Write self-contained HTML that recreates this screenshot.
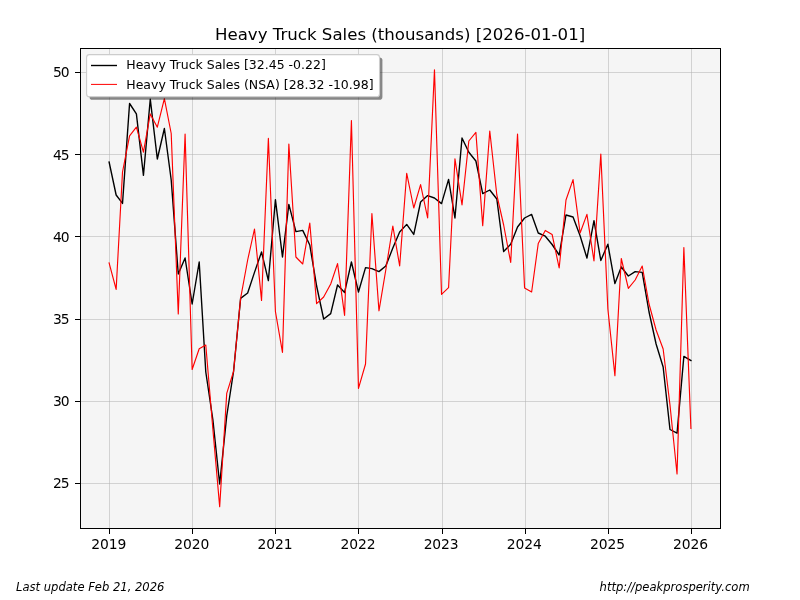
<!DOCTYPE html>
<html><head><meta charset="utf-8"><title>Heavy Truck Sales</title>
<style>
html,body{margin:0;padding:0;background:#fff;}
body{width:800px;height:600px;overflow:hidden;}
svg{display:block;}
text{font-family:"DejaVu Sans","Liberation Sans",sans-serif;fill:#000;}
.it{font-style:italic;}
</style></head><body>
<svg width="800" height="600" viewBox="0 0 800 600">
<rect x="0" y="0" width="800" height="600" fill="#ffffff"/>
<rect x="80.5" y="48.5" width="640" height="480" fill="#f5f5f5"/>
<g stroke="#b0b0b0" stroke-opacity="0.5" stroke-width="1" shape-rendering="crispEdges"><line x1="109.5" y1="48.5" x2="109.5" y2="528.5"/><line x1="192.5" y1="48.5" x2="192.5" y2="528.5"/><line x1="275.5" y1="48.5" x2="275.5" y2="528.5"/><line x1="358.5" y1="48.5" x2="358.5" y2="528.5"/><line x1="442.5" y1="48.5" x2="442.5" y2="528.5"/><line x1="525.5" y1="48.5" x2="525.5" y2="528.5"/><line x1="608.5" y1="48.5" x2="608.5" y2="528.5"/><line x1="691.5" y1="48.5" x2="691.5" y2="528.5"/><line x1="80.5" y1="72.5" x2="720.5" y2="72.5"/><line x1="80.5" y1="154.5" x2="720.5" y2="154.5"/><line x1="80.5" y1="236.5" x2="720.5" y2="236.5"/><line x1="80.5" y1="319.5" x2="720.5" y2="319.5"/><line x1="80.5" y1="401.5" x2="720.5" y2="401.5"/><line x1="80.5" y1="483.5" x2="720.5" y2="483.5"/></g>
<clipPath id="c"><rect x="80.5" y="48.5" width="640" height="480"/></clipPath>
<g clip-path="url(#c)" fill="none" stroke-linejoin="round" stroke-linecap="square">
<polyline stroke="#000" stroke-width="1.39" points="109.09,162.00 116.14,195.00 122.51,203.40 129.57,103.50 136.39,113.90 143.45,175.30 150.27,99.20 157.33,159.00 164.38,128.50 171.21,180.00 178.26,274.00 185.09,258.00 192.14,304.00 199.20,262.00 205.79,372.00 212.85,419.50 219.67,484.00 226.73,416.00 233.55,371.50 240.61,298.40 247.66,293.00 254.49,272.40 261.54,252.00 268.37,280.60 275.42,199.60 282.48,257.00 288.85,204.40 295.90,231.60 302.73,230.40 309.78,245.00 316.61,286.00 323.66,319.00 330.71,313.60 337.54,285.00 344.59,292.40 351.42,262.00 358.47,292.00 365.53,267.60 371.90,268.60 378.95,271.60 385.78,266.00 392.83,248.00 399.66,232.00 406.71,224.40 413.77,234.40 420.59,202.00 427.65,195.60 434.47,198.00 441.53,203.60 448.58,179.40 454.95,218.00 462.01,138.00 468.83,152.20 475.89,161.00 482.71,193.60 489.77,190.00 496.82,199.00 503.65,251.60 510.70,244.20 517.53,227.00 524.58,218.00 531.63,214.40 538.23,233.00 545.29,236.20 552.11,244.50 559.17,255.00 565.99,215.00 573.05,217.00 580.10,235.80 586.93,258.00 593.98,220.60 600.81,260.50 607.86,244.20 614.91,283.60 621.28,267.00 628.34,276.00 635.16,271.60 642.22,272.40 649.04,312.00 656.10,344.00 663.15,367.00 669.98,429.50 677.03,433.20 683.86,356.40 690.91,360.50"/>
<polyline stroke="#f00" stroke-width="1.15" points="109.09,263.00 116.14,289.40 122.51,172.00 129.57,135.80 136.39,127.20 143.45,152.20 150.27,113.90 157.33,127.20 164.38,98.70 171.21,133.50 178.26,314.00 185.09,134.10 192.14,369.50 199.20,348.80 205.79,345.00 212.85,429.00 219.67,506.60 226.73,393.30 233.55,371.50 240.61,298.40 247.66,260.00 254.49,229.00 261.54,300.40 268.37,138.40 275.42,311.50 282.48,352.40 288.85,144.00 295.90,257.00 302.73,264.00 309.78,223.00 316.61,303.60 323.66,297.00 330.71,284.00 337.54,263.60 344.59,315.30 351.42,120.50 358.47,388.40 365.53,364.00 371.90,213.60 378.95,310.80 385.78,270.00 392.83,226.00 399.66,266.00 406.71,173.30 413.77,208.00 420.59,184.60 427.65,218.00 434.47,69.80 441.53,294.40 448.58,287.60 454.95,158.80 462.01,205.00 468.83,141.00 475.89,132.40 482.71,225.60 489.77,131.00 496.82,195.00 503.65,225.00 510.70,262.50 517.53,134.00 524.58,288.00 531.63,292.00 538.23,243.60 545.29,230.40 552.11,234.40 559.17,268.00 565.99,200.00 573.05,179.60 580.10,233.00 586.93,214.40 593.98,261.00 600.81,154.00 607.86,309.00 614.91,375.60 621.28,258.50 628.34,288.40 635.16,280.00 642.22,266.00 649.04,304.00 656.10,330.00 663.15,349.00 669.98,405.00 677.03,474.00 683.86,247.60 690.91,428.40"/>
</g>
<rect x="80.5" y="48.5" width="640" height="480" fill="none" stroke="#000" stroke-width="1" shape-rendering="crispEdges"/>
<g stroke="#000" stroke-width="1" shape-rendering="crispEdges"><line x1="109.5" y1="529" x2="109.5" y2="534"/><line x1="192.5" y1="529" x2="192.5" y2="534"/><line x1="275.5" y1="529" x2="275.5" y2="534"/><line x1="358.5" y1="529" x2="358.5" y2="534"/><line x1="442.5" y1="529" x2="442.5" y2="534"/><line x1="525.5" y1="529" x2="525.5" y2="534"/><line x1="608.5" y1="529" x2="608.5" y2="534"/><line x1="691.5" y1="529" x2="691.5" y2="534"/><line x1="75" y1="72.5" x2="80" y2="72.5"/><line x1="75" y1="154.5" x2="80" y2="154.5"/><line x1="75" y1="236.5" x2="80" y2="236.5"/><line x1="75" y1="319.5" x2="80" y2="319.5"/><line x1="75" y1="401.5" x2="80" y2="401.5"/><line x1="75" y1="483.5" x2="80" y2="483.5"/></g>
<g font-size="13.89px"><text x="108.69" y="548.7" text-anchor="middle" letter-spacing="-0.08px">2019</text><text x="191.74" y="548.7" text-anchor="middle" letter-spacing="-0.08px">2020</text><text x="275.02" y="548.7" text-anchor="middle" letter-spacing="-0.08px">2021</text><text x="358.07" y="548.7" text-anchor="middle" letter-spacing="-0.08px">2022</text><text x="441.13" y="548.7" text-anchor="middle" letter-spacing="-0.08px">2023</text><text x="524.18" y="548.7" text-anchor="middle" letter-spacing="-0.08px">2024</text><text x="607.46" y="548.7" text-anchor="middle" letter-spacing="-0.08px">2025</text><text x="690.51" y="548.7" text-anchor="middle" letter-spacing="-0.08px">2026</text><text x="68.4" y="77.30" text-anchor="end" letter-spacing="-1.1px">50</text><text x="68.4" y="159.50" text-anchor="end" letter-spacing="-1.1px">45</text><text x="68.4" y="241.70" text-anchor="end" letter-spacing="-1.1px">40</text><text x="68.4" y="323.90" text-anchor="end" letter-spacing="-1.1px">35</text><text x="68.4" y="406.10" text-anchor="end" letter-spacing="-1.1px">30</text><text x="68.4" y="488.30" text-anchor="end" letter-spacing="-1.1px">25</text></g>
<text x="215.0" y="39.7" textLength="370.2" lengthAdjust="spacingAndGlyphs" font-size="16.67px">Heavy Truck Sales (thousands) [2026-01-01]</text>
<text class="it" x="16" y="590.7" font-size="11.57px">Last update Feb 21, 2026</text>
<text class="it" x="749.7" y="590.7" text-anchor="end" font-size="11.57px">http://peakprosperity.com</text>
<g>
<rect x="89.5" y="57.5" width="292.9" height="42.2" rx="2.8" ry="2.8" fill="#000" fill-opacity="0.45"/>
<rect x="86.6" y="54.6" width="292.9" height="42.2" rx="2.8" ry="2.8" fill="#fff" stroke="#ccc" stroke-width="1.1"/>
<line x1="91" y1="65.5" x2="117" y2="65.5" stroke="#000" stroke-width="1.39"/>
<line x1="91" y1="84.4" x2="117" y2="84.4" stroke="#f00" stroke-width="1.0"/>
<text x="126.25" y="68.9" font-size="12.5px">Heavy Truck Sales [32.45 -0.22]</text>
<text x="126.25" y="88.8" font-size="12.5px">Heavy Truck Sales (NSA) [28.32 -10.98]</text>
</g>
</svg>
</body></html>
